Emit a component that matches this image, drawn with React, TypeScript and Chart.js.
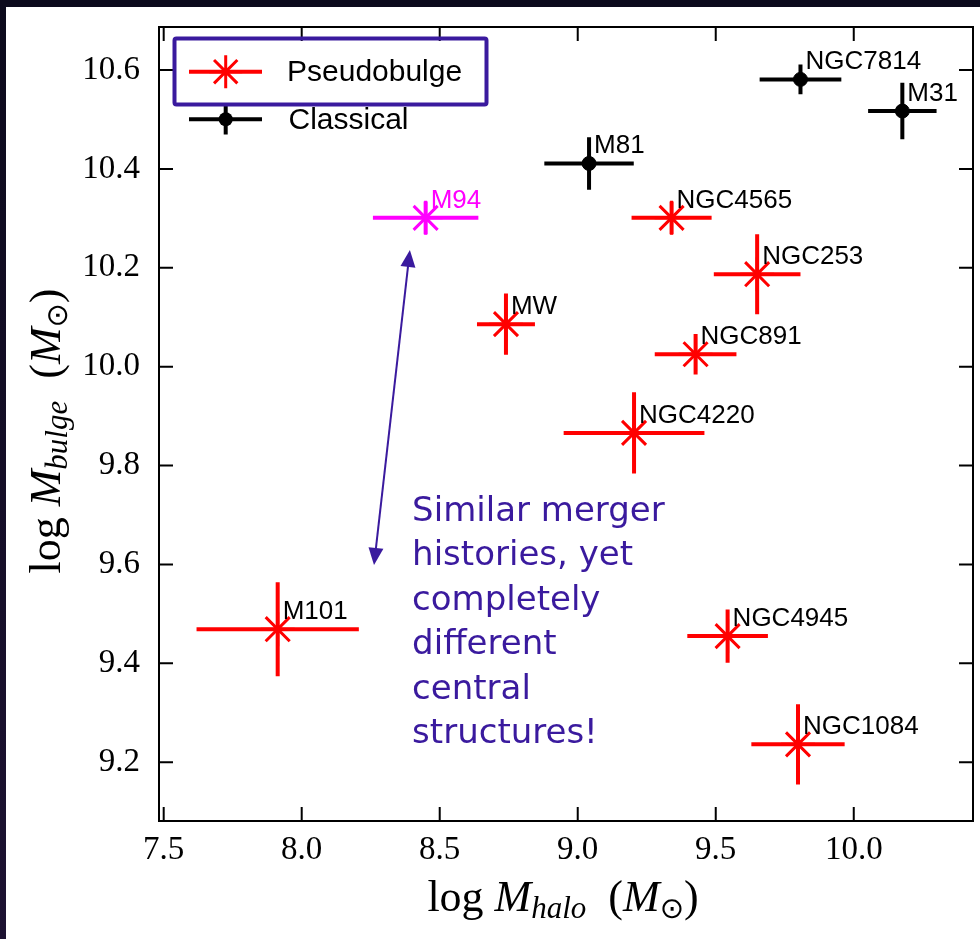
import React, { useEffect, useRef } from "react";
import { Chart, registerables } from "chart.js";

Chart.register(...registerables);

// ---------- data ----------
const pseudoNames = ["M101", "MW", "NGC4565", "NGC253", "NGC891", "NGC4220", "NGC4945", "NGC1084"];
const pseudoX = [7.913, 8.74, 9.34, 9.65, 9.427, 9.204, 9.543, 9.798];
const pseudoY = [9.469, 10.086, 10.301, 10.187, 10.025, 9.866, 9.455, 9.236];
const pseudoXErr = [0.294, 0.105, 0.145, 0.157, 0.148, 0.255, 0.146, 0.169];
const pseudoYErr = [0.095, 0.062, 0.033, 0.081, 0.041, 0.082, 0.054, 0.081];

const highlightNames = ["M94"];
const highlightX = [8.449];
const highlightY = [10.301];
const highlightXErr = [0.191];
const highlightYErr = [0.033];

const classicalNames = ["NGC7814", "M31", "M81"];
const classicalX = [9.807, 10.176, 9.041];
const classicalY = [10.581, 10.517, 10.411];
const classicalXErr = [0.148, 0.124, 0.162];
const classicalYErr = [0.03, 0.057, 0.053];

const xTicks = [7.5, 8.0, 8.5, 9.0, 9.5, 10.0];
const yTicks = [9.2, 9.4, 9.6, 9.8, 10.0, 10.2, 10.4, 10.6];
const xRange = [7.483, 10.432];
const yRange = [9.081, 10.687];

const legendLabels = ["Pseudobulge", "Classical"];
const annotationLines = [
  "Similar merger",
  "histories, yet",
  "completely",
  "different",
  "central",
  "structures!",
];
// arrow end points (data coordinates)
const arrowStart = { x: 8.392, y: 10.236 };
const arrowEnd = { x: 8.262, y: 9.599 };
const annotationAnchor = { x: 8.4, y: 9.688 };

const INDIGO = "#3a1a9e";

type Run = { t: string; font: string; dy?: number };

function drawRuns(ctx: CanvasRenderingContext2D, runs: Run[], cx: number, y: number) {
  let total = 0;
  for (const r of runs) {
    ctx.font = r.font;
    total += ctx.measureText(r.t).width;
  }
  let x = cx - total / 2;
  ctx.textAlign = "left";
  ctx.textBaseline = "alphabetic";
  for (const r of runs) {
    ctx.font = r.font;
    ctx.fillText(r.t, x, y + (r.dy || 0));
    x += ctx.measureText(r.t).width;
  }
}

function drawStar(ctx: CanvasRenderingContext2D, x: number, y: number, r: number) {
  ctx.beginPath();
  for (let k = 0; k < 4; k++) {
    const a = (k * Math.PI) / 4;
    ctx.moveTo(x - Math.cos(a) * r, y - Math.sin(a) * r);
    ctx.lineTo(x + Math.cos(a) * r, y + Math.sin(a) * r);
  }
  ctx.stroke();
}

function drawArrowHead(ctx: CanvasRenderingContext2D, tipX: number, tipY: number, fromX: number, fromY: number, len: number, w: number) {
  const ang = Math.atan2(tipY - fromY, tipX - fromX);
  const bx = tipX - Math.cos(ang) * len;
  const by = tipY - Math.sin(ang) * len;
  const px = -Math.sin(ang) * (w / 2);
  const py = Math.cos(ang) * (w / 2);
  ctx.beginPath();
  ctx.moveTo(tipX, tipY);
  ctx.lineTo(bx + px, by + py);
  ctx.lineTo(bx - px, by - py);
  ctx.closePath();
  ctx.fill();
}

const decorPlugin = {
  id: "decor",
  beforeDatasetsDraw(chart: any) {
    const ctx: CanvasRenderingContext2D = chart.ctx;
    const xs = chart.scales.x;
    const ys = chart.scales.y;
    ctx.save();
    chart.data.datasets.forEach((ds: any) => {
      ctx.strokeStyle = ds.borderColor;
      ctx.lineWidth = 4;
      ctx.lineCap = "butt";
      ds.data.forEach((p: any, j: number) => {
        const ex = ds.errX[j];
        const ey = ds.errY[j];
        const cx = xs.getPixelForValue(p.x);
        const cy = ys.getPixelForValue(p.y);
        ctx.beginPath();
        ctx.moveTo(xs.getPixelForValue(p.x - ex), cy);
        ctx.lineTo(xs.getPixelForValue(p.x + ex), cy);
        ctx.moveTo(cx, ys.getPixelForValue(p.y - ey));
        ctx.lineTo(cx, ys.getPixelForValue(p.y + ey));
        ctx.stroke();
      });
    });
    ctx.restore();
  },
  afterDatasetsDraw(chart: any) {
    const ctx: CanvasRenderingContext2D = chart.ctx;
    const xs = chart.scales.x;
    const ys = chart.scales.y;
    const ca = chart.chartArea;
    ctx.save();

    // point labels
    ctx.font = "26px 'Liberation Sans', Arial, sans-serif";
    ctx.textAlign = "left";
    ctx.textBaseline = "alphabetic";
    chart.data.datasets.forEach((ds: any) => {
      ctx.fillStyle = ds.labelColor;
      ds.data.forEach((p: any, j: number) => {
        ctx.fillText(ds.names[j], xs.getPixelForValue(p.x) + 5, ys.getPixelForValue(p.y) - 10);
      });
    });

    // frame
    ctx.strokeStyle = "#000";
    ctx.lineWidth = 2;
    ctx.strokeRect(ca.left, ca.top, ca.right - ca.left, ca.bottom - ca.top);
    // inward ticks on all sides
    const tl = 14;
    ctx.beginPath();
    xTicks.forEach((v) => {
      const px = xs.getPixelForValue(v);
      ctx.moveTo(px, ca.bottom);
      ctx.lineTo(px, ca.bottom - tl);
      ctx.moveTo(px, ca.top);
      ctx.lineTo(px, ca.top + tl);
    });
    yTicks.forEach((v) => {
      const py = ys.getPixelForValue(v);
      ctx.moveTo(ca.left, py);
      ctx.lineTo(ca.left + tl, py);
      ctx.moveTo(ca.right, py);
      ctx.lineTo(ca.right - tl, py);
    });
    ctx.stroke();

    // legend
    const l0 = ca.left + 30;
    const l1 = ca.left + 103;
    const lm = ca.left + 66.7;
    const ly1 = ca.top + 44.7;
    const ly2 = ca.top + 92.3;
    ctx.strokeStyle = "#ff0000";
    ctx.lineWidth = 4;
    ctx.beginPath();
    ctx.moveTo(l0, ly1);
    ctx.lineTo(l1, ly1);
    ctx.stroke();
    ctx.lineWidth = 3;
    drawStar(ctx, lm, ly1, 16.5);
    ctx.strokeStyle = "#000";
    ctx.lineWidth = 4;
    ctx.beginPath();
    ctx.moveTo(l0, ly2);
    ctx.lineTo(l1, ly2);
    ctx.moveTo(lm, ly2 - 15.3);
    ctx.lineTo(lm, ly2 + 15.3);
    ctx.stroke();
    ctx.fillStyle = "#000";
    ctx.beginPath();
    ctx.arc(lm, ly2, 7, 0, Math.PI * 2);
    ctx.fill();
    ctx.font = "30px 'Liberation Sans', Arial, sans-serif";
    ctx.textBaseline = "middle";
    ctx.fillText(legendLabels[0], ca.left + 128, ly1 + 1);
    ctx.fillText(legendLabels[1], ca.left + 129.5, ly2 + 1);
    // highlight box around the first legend entry
    ctx.strokeStyle = INDIGO;
    ctx.lineWidth = 4;
    ctx.beginPath();
    (ctx as any).roundRect
      ? (ctx as any).roundRect(ca.left + 15.5, ca.top + 11.5, 312, 66, 2)
      : ctx.rect(ca.left + 15.5, ca.top + 11.5, 312, 66);
    ctx.stroke();

    // arrow
    const ax1 = xs.getPixelForValue(arrowStart.x);
    const ay1 = ys.getPixelForValue(arrowStart.y);
    const ax2 = xs.getPixelForValue(arrowEnd.x);
    const ay2 = ys.getPixelForValue(arrowEnd.y);
    ctx.strokeStyle = INDIGO;
    ctx.fillStyle = INDIGO;
    ctx.lineWidth = 2;
    const ang = Math.atan2(ay2 - ay1, ax2 - ax1);
    const hl = 17;
    ctx.beginPath();
    ctx.moveTo(ax1 + Math.cos(ang) * hl * 0.8, ay1 + Math.sin(ang) * hl * 0.8);
    ctx.lineTo(ax2 - Math.cos(ang) * hl * 0.8, ay2 - Math.sin(ang) * hl * 0.8);
    ctx.stroke();
    drawArrowHead(ctx, ax1, ay1, ax2, ay2, hl, 15);
    drawArrowHead(ctx, ax2, ay2, ax1, ay1, hl, 15);

    // annotation text
    ctx.font = "34px 'DejaVu Sans', sans-serif";
    ctx.textAlign = "left";
    ctx.textBaseline = "alphabetic";
    const tx = xs.getPixelForValue(annotationAnchor.x);
    const ty = ys.getPixelForValue(annotationAnchor.y);
    annotationLines.forEach((line, i) => {
      ctx.fillText(line, tx, ty + i * 44.5);
    });

    // axis titles
    ctx.fillStyle = "#000";
    const serif = "'Liberation Serif', 'DejaVu Serif', serif";
    const big = `44px ${serif}`;
    const bigI = `italic 44px ${serif}`;
    const subI = `italic 31px ${serif}`;
    const sub = `29px 'DejaVu Sans', sans-serif`;
    drawRuns(
      ctx,
      [
        { t: "log ", font: big },
        { t: "M", font: bigI },
        { t: "halo", font: subI, dy: 7 },
        { t: "  (", font: big },
        { t: "M", font: bigI },
        { t: "\u2299", font: sub, dy: 7 },
        { t: ")", font: big },
      ],
      (ca.left + ca.right) / 2 - 3,
      ca.bottom + 90
    );
    ctx.save();
    ctx.translate(ca.left - 99, (ca.top + ca.bottom) / 2 + 7);
    ctx.rotate(-Math.PI / 2);
    drawRuns(
      ctx,
      [
        { t: "log ", font: big },
        { t: "M", font: bigI },
        { t: "bulge", font: subI, dy: 7 },
        { t: "  (", font: big },
        { t: "M", font: bigI },
        { t: "\u2299", font: sub, dy: 7 },
        { t: ")", font: big },
      ],
      0,
      0
    );
    ctx.restore();

    ctx.restore();
  },
};

export default function App() {
  const ref = useRef<HTMLCanvasElement>(null);
  useEffect(() => {
    const canvas = ref.current!;
    const pts = (xs: number[], ys: number[]) => xs.map((x, i) => ({ x, y: ys[i] }));
    const tickFont = { family: "'Liberation Serif', 'DejaVu Serif', serif", size: 33 };
    const chart = new Chart(canvas, {
      type: "scatter",
      data: {
        datasets: [
          {
            label: "Pseudobulge",
            data: pts(pseudoX, pseudoY),
            pointStyle: "star",
            pointRadius: 17,
            borderWidth: 3,
            borderColor: "#ff0000",
            backgroundColor: "#ff0000",
            errX: pseudoXErr,
            errY: pseudoYErr,
            names: pseudoNames,
            labelColor: "#000000",
          } as any,
          {
            label: "M94",
            data: pts(highlightX, highlightY),
            pointStyle: "star",
            pointRadius: 17,
            borderWidth: 3,
            borderColor: "#ff00ff",
            backgroundColor: "#ff00ff",
            errX: highlightXErr,
            errY: highlightYErr,
            names: highlightNames,
            labelColor: "#ff00ff",
          } as any,
          {
            label: "Classical",
            data: pts(classicalX, classicalY),
            pointStyle: "circle",
            pointRadius: 7,
            borderWidth: 1,
            borderColor: "#000000",
            backgroundColor: "#000000",
            errX: classicalXErr,
            errY: classicalYErr,
            names: classicalNames,
            labelColor: "#000000",
          } as any,
        ],
      },
      options: {
        responsive: false,
        animation: false,
        events: [],
        layout: { autoPadding: false, padding: { top: 20, right: 7, left: 0, bottom: 0 } },
        plugins: {
          legend: { display: false },
          tooltip: { enabled: false },
          title: { display: false },
        },
        scales: {
          x: {
            type: "linear",
            min: xRange[0],
            max: xRange[1],
            grid: { display: false, drawTicks: false },
            border: { display: false },
            afterBuildTicks: (s: any) => {
              s.ticks = xTicks.map((v) => ({ value: v }));
            },
            afterFit: (s: any) => {
              s.height = 118;
              s.paddingLeft = 0;
              s.paddingRight = 0;
              s.paddingTop = 0;
              s.paddingBottom = 0;
            },
            ticks: {
              font: tickFont,
              color: "#000",
              padding: 10,
              maxRotation: 0,
              autoSkip: false,
              callback: (v: any) => Number(v).toFixed(1),
            },
          },
          y: {
            type: "linear",
            min: yRange[0],
            max: yRange[1],
            grid: { display: false, drawTicks: false },
            border: { display: false },
            afterBuildTicks: (s: any) => {
              s.ticks = yTicks.map((v) => ({ value: v }));
            },
            afterFit: (s: any) => {
              s.width = 153;
              s.paddingLeft = 0;
              s.paddingRight = 0;
              s.paddingTop = 0;
              s.paddingBottom = 0;
            },
            ticks: {
              font: tickFont,
              color: "#000",
              padding: 19,
              autoSkip: false,
              callback: (v: any) => Number(v).toFixed(1),
            },
          },
        } as any,
      },
      plugins: [decorPlugin],
    });
    return () => chart.destroy();
  }, []);

  return (
    <div
      style={{
        position: "fixed",
        left: 0,
        top: 0,
        width: 980,
        height: 939,
        background: "linear-gradient(to bottom, #0c0a1c, #1d1232)",
      }}
    >
      <div style={{ position: "absolute", left: 6, top: 7, width: 974, height: 932, background: "#ffffff" }}>
        <canvas ref={ref} width={974} height={932} style={{ display: "block", width: 974, height: 932 }} />
      </div>
    </div>
  );
}
